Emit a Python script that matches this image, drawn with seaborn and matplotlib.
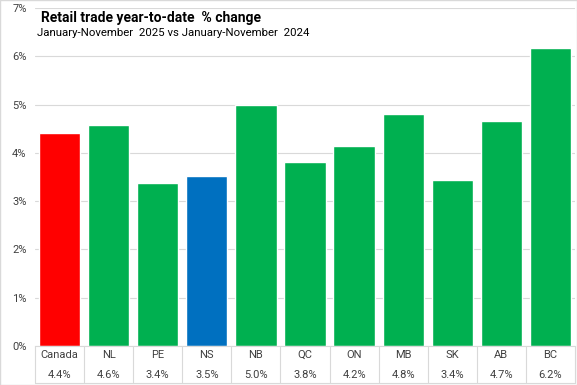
import matplotlib.pyplot as plt
import seaborn as sns
import pandas as pd
from matplotlib.ticker import PercentFormatter

# data
regions = ['Canada', 'NL', 'PE', 'NS', 'NB', 'QC', 'ON', 'MB', 'SK', 'AB', 'BC']
ytd_change = [4.41, 4.57, 3.37, 3.53, 5.00, 3.82, 4.15, 4.81, 3.44, 4.66, 6.18]
value_labels = ['4.4%', '4.6%', '3.4%', '3.5%', '5.0%', '3.8%', '4.2%', '4.8%', '3.4%', '4.7%', '6.2%']
bar_colors = ['#FF0000', '#00B050', '#00B050', '#0070C0', '#00B050', '#00B050',
              '#00B050', '#00B050', '#00B050', '#00B050', '#00B050']

df = pd.DataFrame({'region': regions, 'change': ytd_change})

sns.set_style('white')
plt.rcParams['font.family'] = ['Roboto', 'DejaVu Sans']

fig = plt.figure(figsize=(5.77, 3.85), dpi=100)
ax = fig.add_axes([35 / 577, 39 / 385, 540 / 577, 338 / 385])

sns.barplot(data=df, x='region', y='change', hue='region', palette=bar_colors,
            legend=False, width=0.84, saturation=1, ax=ax)

grid_col = '#d9d9d9'
ax.set_ylim(0, 7)
ax.set_xlim(-0.5, len(regions) - 0.5)
ax.set_yticks(range(0, 8))
ax.yaxis.set_major_formatter(PercentFormatter(decimals=0))
ax.tick_params(axis='y', length=0, labelsize=8, colors='#404040', pad=6)
ax.set_xticks([])
ax.grid(axis='y', color=grid_col, linewidth=0.8)
ax.set_axisbelow(True)
for s in ['top', 'right']:
    ax.spines[s].set_visible(False)
ax.spines['left'].set_visible(False)
ax.spines['bottom'].set_color(grid_col)
ax.set_xlabel('')
ax.set_ylabel('')

# data table under the bars
tr = ax.get_xaxis_transform()
for i, (r, v) in enumerate(zip(regions, value_labels)):
    ax.text(i, -0.027, r, transform=tr, ha='center', va='center', fontsize=8, color='#404040')
    ax.text(i, -0.086, v, transform=tr, ha='center', va='center', fontsize=8, color='#404040')
for b in range(len(regions) + 1):
    ax.plot([b - 0.5, b - 0.5], [0, -0.11], transform=tr, color=grid_col,
            linewidth=0.8, clip_on=False)
ax.plot([-0.5, len(regions) - 0.5], [-0.11, -0.11], transform=tr, color=grid_col,
        linewidth=0.8, clip_on=False)

ax.text(0.012, 0.99, 'Retail trade year-to-date  % change', transform=ax.transAxes,
        fontsize=10, fontweight='bold', va='top', ha='left', color='black')
ax.text(0.004, 0.942, 'January-November  2025 vs January-November  2024', transform=ax.transAxes,
        fontsize=8.2, va='top', ha='left', color='black')

fig.patches.append(plt.Rectangle((0, 0), 1, 1, transform=fig.transFigure, fill=False,
                                 edgecolor=grid_col, linewidth=1))

fig.savefig('out.png', dpi=100)
